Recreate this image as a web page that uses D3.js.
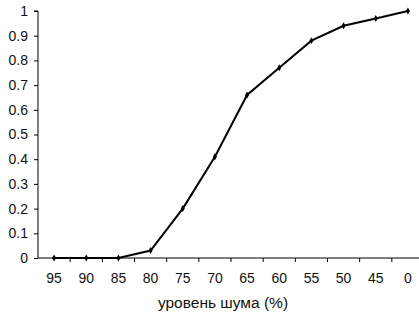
<!DOCTYPE html>
<html>
<head>
<meta charset="utf-8">
<script src="https://cdn.jsdelivr.net/npm/d3@7"></script>
<style>
  body { margin: 0; background: #fff; }
  svg { display: block; font-family: Arial, "Liberation Sans", sans-serif; }
</style>
</head>
<body>
<div id="chart"></div>
<script>
const noiseLevels = ['95', '90', '85', '80', '75', '70', '65', '60', '55', '50', '45', '0'];
const values = [0, 0, 0, 0.03, 0.2, 0.41, 0.66, 0.77, 0.88, 0.94, 0.97, 1.0];
const yTicks = [0, 0.1, 0.2, 0.3, 0.4, 0.5, 0.6, 0.7, 0.8, 0.9, 1];
const xTitle = 'уровень шума (%)';

const wSvg = 419;
const hSvg = 315;
const margin = { left: 38, right: -5, top: 11, bottom: 57 };

const svg = d3.select('#chart').append('svg')
    .attr('width', wSvg)
    .attr('height', hSvg);

const xScale = d3.scaleBand(noiseLevels, [margin.left, wSvg - margin.right]);
const yScale = d3.scaleLinear([0, 1], [hSvg - margin.bottom, margin.top]);

// x axis: ticks sit on the category borders, like excel
const xAxis = svg.append('g')
    .attr('transform', `translate(0, ${yScale(0)})`);

xAxis.append('line')
    .attr('x1', xScale.range()[0])
    .attr('x2', xScale.range()[1])
    .attr('stroke', '#000');

xAxis.selectAll('.tick')
    .data(noiseLevels)
    .enter()
    .append('line')
        .attr('x1', d => xScale(d) + xScale.bandwidth())
        .attr('x2', d => xScale(d) + xScale.bandwidth())
        .attr('y1', 0)
        .attr('y2', 4)
        .attr('stroke', '#000');

xAxis.selectAll('text')
    .data(noiseLevels)
    .enter()
    .append('text')
        .attr('x', d => xScale(d) + xScale.bandwidth() / 2)
        .attr('y', 25)
        .attr('text-anchor', 'middle')
        .attr('font-size', 14)
        .attr('fill', '#111')
        .text(d => d);

svg.append('g')
    .attr('transform', `translate(${margin.left}, 0)`)
    .call(d3.axisLeft(yScale).tickValues(yTicks).tickSize(4).tickPadding(6).tickFormat(d => String(d)))
    .call(g => g.select('.domain').attr('d', `M-4,${yScale(1)}H0V${yScale(0)}`))
    .call(g => g.selectAll('text').attr('font-size', 14).attr('font-family', null).attr('fill', '#111'))
    .call(g => g.selectAll('line, path').attr('stroke', '#000'));

svg.append('text')
    .attr('x', 223)
    .attr('y', 308)
    .attr('text-anchor', 'middle')
    .attr('font-size', 15.5)
    .attr('fill', '#111')
    .text(xTitle);

const line = d3.line()
    .x((d, i) => xScale(noiseLevels[i]) + xScale.bandwidth() / 2)
    .y(d => yScale(d));

svg.append('path')
    .datum(values)
    .attr('d', line)
    .attr('fill', 'none')
    .attr('stroke', '#000')
    .attr('stroke-width', 2);

svg.append('g')
    .selectAll('path')
    .data(values)
    .enter()
    .append('path')
        .attr('d', d3.symbol(d3.symbolDiamond, 14))
        .attr('transform', (d, i) => `translate(${xScale(noiseLevels[i]) + xScale.bandwidth() / 2}, ${yScale(d)})`)
        .attr('fill', '#000');
</script>
</body>
</html>
